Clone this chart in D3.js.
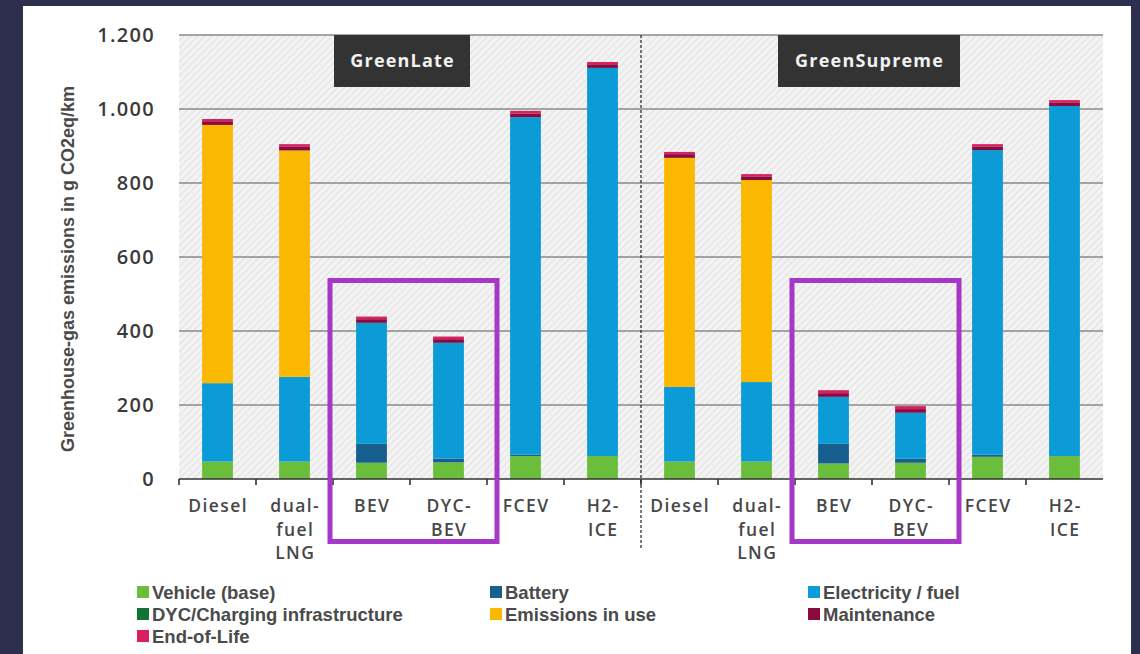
<!DOCTYPE html>
<html>
<head>
<meta charset="utf-8">
<script src="https://cdn.jsdelivr.net/npm/d3@7"></script>
<style>
  html, body { margin: 0; padding: 0; background: #2e2f4f; }
  svg { display: block; }
</style>
</head>
<body>
<svg id="chart" width="1140" height="654"></svg>
<script>
// Categories (two scenarios, six drivetrains each)
const scenarios = ["GreenLate", "GreenSupreme"];
const drivetrains = [["Diesel"], ["dual-", "fuel", "LNG"], ["BEV"], ["DYC-", "BEV"], ["FCEV"], ["H2-", "ICE"]];

// Series names and colours (stack order bottom to top)
const seriesNames = ["Vehicle (base)", "DYC/Charging infrastructure", "Battery", "Electricity / fuel", "Emissions in use", "Maintenance", "End-of-Life"];
const seriesColors = ["#6bbd3c", "#137336", "#175f8e", "#0b9bd7", "#fbb800", "#8a0c3e", "#d81f62"];

// Values in g CO2eq/km, GreenLate then GreenSupreme
const vehicleBase   = [47, 47, 44, 45, 62, 62, 47, 47, 42, 44, 60, 62];
const dycInfra      = [0, 0, 0, 0, 0, 0, 0, 0, 0, 0, 0, 0];
const battery       = [0, 0, 51, 10, 4, 0, 0, 0, 53, 11, 6, 0];
const electricity   = [212, 229, 327, 313, 912, 1049, 202, 215, 127, 124, 823, 946];
const emissionsUse  = [698, 612, 0, 0, 0, 0, 619, 546, 0, 0, 0, 0];
const maintenance   = [10, 11, 10, 10, 10, 10, 10, 10, 10, 10, 10, 10];
const endOfLife     = [6, 6, 7, 7, 7, 6, 6, 6, 8, 8, 6, 6];

// Axis ticks
const yTicks = [0, 200, 400, 600, 800, 1000, 1200];
const yTickLabels = ["0", "200", "400", "600", "800", "1.000", "1.200"];
const yTitle = "Greenhouse-gas emissions in g CO2eq/km";

const seriesValues = [vehicleBase, dycInfra, battery, electricity, emissionsUse, maintenance, endOfLife];
const cats = [];
scenarios.forEach((s, si) => drivetrains.forEach((d, di) => cats.push({ id: s + "-" + di, scenario: s, lines: d })));
const rows = cats.map((c, i) => {
  const r = { id: c.id };
  seriesNames.forEach((n, k) => r[n] = seriesValues[k][i]);
  return r;
});
const stacked = d3.stack().keys(seriesNames)(rows);

const svg = d3.select("#chart");

// white panel
svg.append("rect").attr("x", 23).attr("y", 6).attr("width", 1108).attr("height", 648).attr("fill", "#ffffff");

const plot = { left: 179, right: 1103, top: 35, bottom: 479 };
const x = d3.scaleBand().domain(cats.map(c => c.id)).range([plot.left, plot.right]).paddingInner(0.6).paddingOuter(0.3);
const y = d3.scaleLinear().domain([0, 1200]).range([plot.bottom, plot.top]);

// hatched background
const defs = svg.append("defs");
const pat = defs.append("pattern").attr("id", "hatch").attr("patternUnits", "userSpaceOnUse")
  .attr("width", 5).attr("height", 5).attr("patternTransform", "rotate(45)");
pat.append("rect").attr("width", 5).attr("height", 5).attr("fill", "#f3f3f3");
pat.append("line").attr("x1", 0).attr("y1", 0).attr("x2", 0).attr("y2", 5).attr("stroke", "#d9d9d9").attr("stroke-width", 1.4);
svg.append("rect").attr("x", plot.left).attr("y", plot.top).attr("width", plot.right - plot.left)
  .attr("height", plot.bottom - plot.top).attr("fill", "url(#hatch)");

// gridlines
svg.append("g").selectAll("line").data(yTicks.filter(t => t > 0)).join("line")
  .attr("x1", plot.left).attr("x2", plot.right)
  .attr("y1", d => y(d)).attr("y2", d => y(d))
  .attr("stroke", "#8a8a8a").attr("stroke-width", 1.5);

// y tick labels
svg.append("g").selectAll("text").data(yTicks).join("text")
  .attr("x", 155).attr("y", d => y(d)).attr("dy", "0.36em")
  .attr("text-anchor", "end")
  .attr("font-family", "'Open Sans', sans-serif").attr("font-weight", 600)
  .attr("font-size", 20).attr("letter-spacing", 1.3).attr("fill", "#3a3a3a")
  .text((d, i) => yTickLabels[i]);

// y axis title
svg.append("text")
  .attr("transform", `translate(74,${(plot.top + plot.bottom) / 2 + 12}) rotate(-90)`)
  .attr("text-anchor", "middle")
  .attr("font-family", "'Liberation Sans', Arial, sans-serif").attr("font-weight", 700)
  .attr("font-size", 18).attr("fill", "#4a4a4a")
  .text(yTitle);

// stacked bars
svg.append("g").selectAll("g").data(stacked).join("g")
  .attr("fill", (d, i) => seriesColors[i])
  .selectAll("rect").data(d => d.filter(p => p[1] - p[0] > 0)).join("rect")
  .attr("x", d => x(d.data.id)).attr("width", x.bandwidth())
  .attr("y", d => y(d[1])).attr("height", d => y(d[0]) - y(d[1]));

// x axis
const ax = svg.append("g");
ax.append("line").attr("x1", plot.left).attr("x2", plot.right)
  .attr("y1", plot.bottom).attr("y2", plot.bottom).attr("stroke", "#333").attr("stroke-width", 1.6);
const step = x.step();
const boundaries = d3.range(cats.length).map(i => plot.left + i * step);
ax.selectAll("line.tick").data(boundaries).join("line").attr("class", "tick")
  .attr("x1", d => d).attr("x2", d => d).attr("y1", plot.bottom).attr("y2", plot.bottom + 6)
  .attr("stroke", "#333").attr("stroke-width", 1.6);

// category labels
const lab = svg.append("g").selectAll("text").data(cats).join("text")
  .attr("text-anchor", "middle")
  .attr("font-family", "'Open Sans', sans-serif").attr("font-weight", 600)
  .attr("font-size", 17.5).attr("letter-spacing", 1.4).attr("fill", "#474747");
lab.selectAll("tspan").data(d => d.lines.map(t => ({ t, x: x(d.id) + x.bandwidth() / 2 + 0.7 }))).join("tspan")
  .attr("x", d => d.x).attr("y", (d, i) => 512 + i * 23.5).text(d => d.t);

// scenario divider
const mid = plot.left + 6 * step;
svg.append("line").attr("x1", mid).attr("x2", mid).attr("y1", plot.top).attr("y2", 548)
  .attr("stroke", "#222").attr("stroke-width", 1.2).attr("stroke-dasharray", "3,2");

// scenario labels
const boxes = [{ name: "GreenLate", cx: 402, w: 136 }, { name: "GreenSupreme", cx: 869, w: 182 }];
boxes.forEach((b, i) => {
  svg.append("rect").attr("x", b.cx - b.w / 2).attr("y", plot.top).attr("width", b.w).attr("height", 52).attr("fill", "#333333");
  svg.append("text").attr("x", b.cx + 0.6).attr("y", plot.top + 26).attr("dy", "0.36em")
    .attr("text-anchor", "middle").attr("fill", "#f2f2f2")
    .attr("font-family", "'Open Sans', sans-serif").attr("font-weight", 700)
    .attr("font-size", 18).attr("letter-spacing", 1.2)
    .text(scenarios[i]);
});

// highlight frames around BEV and DYC-BEV
scenarios.forEach(s => {
  const x0 = x(s + "-2") - (x.step() - x.bandwidth()) / 2 - 3;
  const x1 = x(s + "-3") + x.bandwidth() + (x.step() - x.bandwidth()) / 2 + 10;
  svg.append("rect").attr("x", x0).attr("y", 280.5).attr("width", x1 - x0).attr("height", 261)
    .attr("fill", "none").attr("stroke", "#a637c8").attr("stroke-width", 5);
});

// legend
const legCols = [137, 490, 808];
const legend = svg.append("g");
const legendOrder = [0, 2, 3, 1, 4, 5, 6];
seriesNames.forEach((n, i) => {
  const pos = legendOrder.indexOf(i);
  const col = pos % 3, row = Math.floor(pos / 3);
  const g = legend.append("g").attr("transform", `translate(${legCols[col]},${592 + row * 22})`);
  g.append("rect").attr("x", 0).attr("y", -6).attr("width", 12).attr("height", 12).attr("fill", seriesColors[i]);
  g.append("text").attr("x", 15).attr("y", 0).attr("dy", "0.36em")
    .attr("font-family", "'Liberation Sans', Arial, sans-serif").attr("font-weight", 700)
    .attr("font-size", 18.5).attr("fill", "#4a4a4a").text(n);
});
</script>
</body>
</html>
